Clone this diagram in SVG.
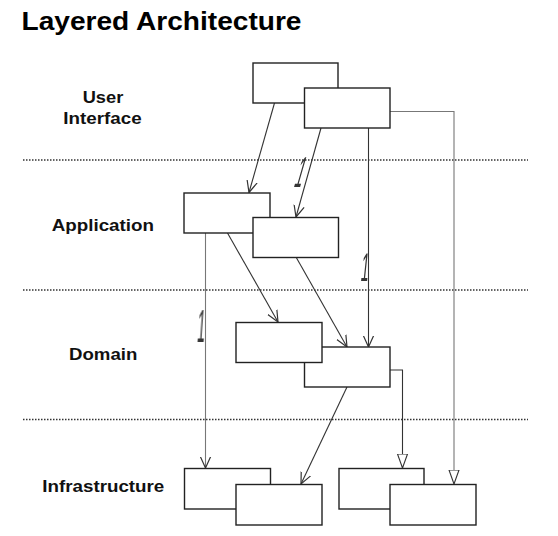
<svg xmlns="http://www.w3.org/2000/svg" width="558" height="536" viewBox="0 0 558 536">
<style>
  .title{font-family:"Liberation Sans",Arial,sans-serif;font-weight:bold;font-size:26px;fill:#000}
  .layer{font-family:"Liberation Sans",Arial,sans-serif;font-weight:bold;font-size:17px;fill:#111}
  .sep{stroke:#333;stroke-width:1.5;stroke-dasharray:1.5 1.5;fill:none}
  .box{fill:#fff;stroke:#222;stroke-width:1.4}
  .conn{fill:none;stroke:#333;stroke-width:1.1}
  .conn.light{stroke:#777}
  .mult{font-family:"Liberation Sans",Arial,sans-serif;font-size:14px;fill:#333}
  #multiplicities{opacity:0.99}
</style>
<defs>
  <marker id="open" viewBox="0 0 12 12" refX="11.5" refY="6" markerWidth="12" markerHeight="12" markerUnits="userSpaceOnUse" orient="auto">
    <path d="M0,0.8 L11.5,6 L0,11.2" fill="none" stroke="#333" stroke-width="1.2"/>
  </marker>
  <marker id="tri" viewBox="0 0 15 12" refX="14.5" refY="6" markerWidth="15" markerHeight="12" markerUnits="userSpaceOnUse" orient="auto">
    <path d="M0.5,1 L14.5,6 L0.5,11 Z" fill="#fff" stroke="#333" stroke-width="1.1"/>
  </marker>
</defs>
<rect width="558" height="536" fill="#fff"/>

<text class="title" x="21.5" y="30" textLength="280" lengthAdjust="spacingAndGlyphs">Layered Architecture</text>

<g id="layer-labels">
  <text class="layer" x="82.7" y="102.7" textLength="40.6" lengthAdjust="spacingAndGlyphs">User</text>
  <text class="layer" x="63.3" y="124" textLength="78.3" lengthAdjust="spacingAndGlyphs">Interface</text>
  <text class="layer" x="51.7" y="230.7" textLength="102.3" lengthAdjust="spacingAndGlyphs">Application</text>
  <text class="layer" x="69" y="360" textLength="68.3" lengthAdjust="spacingAndGlyphs">Domain</text>
  <text class="layer" x="42.3" y="491.7" textLength="122" lengthAdjust="spacingAndGlyphs">Infrastructure</text>
</g>

<g id="separators">
  <line class="sep" x1="23" y1="160" x2="528" y2="160"/>
  <line class="sep" x1="23" y1="290" x2="528" y2="290"/>
  <line class="sep" x1="23" y1="419.5" x2="528" y2="419.5"/>
</g>

<g id="connectors">
  <line class="conn" x1="274.5" y1="103" x2="249" y2="192.5" marker-end="url(#open)"/>
  <line class="conn" x1="321" y1="128" x2="296" y2="217" marker-end="url(#open)"/>
  <line class="conn" x1="368.5" y1="128" x2="368.5" y2="347" marker-end="url(#open)"/>
  <polyline class="conn light" points="390,111.5 454,111.5 454,484" marker-end="url(#tri)"/>
  <line class="conn" x1="227.5" y1="233" x2="278" y2="322" marker-end="url(#open)"/>
  <line class="conn light" x1="205.5" y1="233" x2="205.5" y2="468" marker-end="url(#open)"/>
  <line class="conn" x1="296" y1="257" x2="347" y2="347" marker-end="url(#open)"/>
  <line class="conn" x1="347" y1="387" x2="301" y2="484" marker-end="url(#open)"/>
  <polyline class="conn" points="390,370 402.5,370 402.5,468" marker-end="url(#tri)"/>
</g>

<g id="multiplicities">
  <text class="mult" transform="translate(293,187) skewX(-16) scale(1,3.1)">1</text>
  <text class="mult" transform="translate(360,281) skewX(-6) scale(1,2.85)">1</text>
  <text class="mult" transform="translate(196.5,342) skewX(-4) scale(1,3.3)">1</text>
</g>

<g id="ui-1"><rect class="box" x="253" y="63" width="85" height="40"/></g>
<g id="ui-2"><rect class="box" x="304.5" y="88" width="85.5" height="40"/></g>
<g id="app-1"><rect class="box" x="184" y="193" width="86" height="40"/></g>
<g id="app-2"><rect class="box" x="253" y="217.5" width="85.5" height="40"/></g>
<g id="domain-2"><rect class="box" x="304.5" y="347" width="85.5" height="40"/></g>
<g id="domain-1"><rect class="box" x="236" y="322.5" width="86" height="40"/></g>
<g id="infra-1"><rect class="box" x="184.5" y="468.5" width="86" height="40.5"/></g>
<g id="infra-2"><rect class="box" x="236" y="484.5" width="86" height="40.5"/></g>
<g id="infra-3"><rect class="box" x="339" y="468.5" width="85" height="40.5"/></g>
<g id="infra-4"><rect class="box" x="390" y="484.5" width="86" height="40.5"/></g>
</svg>
